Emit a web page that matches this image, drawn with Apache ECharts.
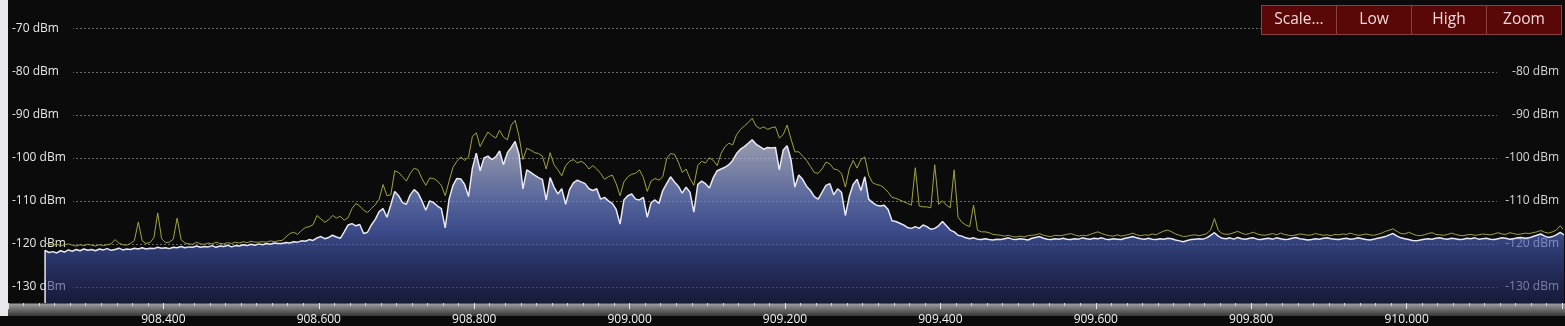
<!DOCTYPE html>
<html><head><meta charset="utf-8">
<script src="https://cdn.jsdelivr.net/npm/echarts@6/dist/echarts.min.js"></script>
<style>html,body{margin:0;padding:0;background:#0b0b0b;overflow:hidden}#c{width:1565px;height:326px}</style>
</head><body><div id="c"></div>
<script>
// ---- data (frequency grid in MHz, levels in dBm) ----
const freqStart = 908.2477;
const freqStep = 0.005;
const liveDbm = [
-121.5,-122.0,-121.8,-122.1,-121.6,-121.9,-121.4,-121.7,-121.3,-121.6,
-121.2,-121.5,-121.3,-121.6,-121.2,-121.4,-121.1,-121.5,-121.3,-121.0,
-121.4,-121.2,-121.3,-121.0,-121.2,-120.9,-121.2,-121.0,-121.1,-120.8,
-121.0,-120.9,-121.1,-120.8,-120.9,-120.6,-120.9,-120.7,-120.8,-120.5,
-120.8,-120.6,-120.7,-120.4,-120.8,-120.5,-120.6,-120.3,-120.7,-120.4,
-120.5,-120.2,-120.4,-120.1,-120.3,-120.0,-120.2,-119.9,-120.1,-119.8,
-119.9,
-119.9,-119.7,-119.8,-119.5,-119.6,-119.3,-119.4,-119.0,-119.2,-118.6,
-118.3,-118.8,-118.5,-118.0,-118.4,-118.7,-117.2,-115.6,-115.3,-115.8,
-115.5,-117.6,-117.3,-115.6,-114.3,-112.5,-111.8,-113.8,-110.9,-107.8,
-108.8,-110.4,-110.8,-108.6,-107.4,-108.2,-110.0,-112.2,-110.0,-110.4,
-111.2,-111.8,-116.3,-109.6,-106.4,-104.8,-104.9,-106.2,-109.0,-102.4,
-98.9,-103.0,-100.0,-99.6,-100.4,-99.8,-98.4,-101.6,-98.8,-97.6,
-96.2,-99.2,-107.2,-102.8,-103.4,-104.0,-104.6,-105.0,-109.8,-104.6,
-106.8,-108.4,-107.2,-110.8,-107.4,-105.8,-105.2,-105.6,-106.0,-107.2,
-107.6,-107.2,-109.6,-109.2,-110.0,-110.6,-112.0,-115.4,-109.8,-108.8,
-108.4,-109.6,-109.8,-109.2,-113.8,-110.4,-109.8,-110.6,-107.6,-106.0,
-104.4,-105.6,-106.6,-108.2,-106.8,-108.0,-112.6,-106.2,-105.4,-106.0,
-107.0,-104.6,-103.0,-102.6,-102.2,-101.6,-100.6,-99.0,-98.0,-97.4,
-96.6,-95.8,-96.8,-97.4,-98.0,-97.6,-97.7,-97.6,-102.8,-98.2,
-97.2,-100.4,-106.8,-104.0,-105.0,-106.6,-107.6,-109.0,-109.6,-108.0,
-106.4,-106.0,-108.6,-107.2,-108.0,-113.4,-109.0,-106.2,-105.0,-107.6,
-104.4,-109.6,-110.4,-111.0,-111.2,-111.0,-112.0,-114.6,-114.8,-115.2,
-115.6,-116.2,-116.4,-116.0,-116.4,-115.6,-116.0,-116.6,-116.4,-115.8,
-114.8,-115.8,-116.8,-117.2,-118.0,-118.2,-118.6,-118.8,-118.6,-118.9,
-119.0,-118.8,-119.0,-119.1,-118.9,-119.0,-118.8,-118.6,-118.9,-119.0,
-118.8,-118.9,-119.1,-118.7,-118.5,-118.3,-118.7,-118.9,-119.0,-118.8,
-118.9,-118.7,-118.9,-119.0,-118.8,-118.9,-118.6,-118.8,-118.9,-118.7,
-118.8,-118.6,-118.9,-119.0,-118.8,-118.9,-119.0,-118.7,-118.5,-118.3,
-118.6,-118.8,-118.9,-118.7,-118.9,-119.0,-118.8,-118.9,-118.7,-118.8,
-119.1,-119.3,-119.5,-119.2,-119.0,-118.9,-118.8,-118.9,-118.6,-118.0,
-117.4,-118.2,-118.7,-118.8,-118.6,-118.9,-118.5,-118.8,-118.9,-118.7,
-118.6,-118.9,-119.0,-118.8,-118.7,-118.9,-118.6,-118.8,-119.0,-118.9,
-118.7,-118.5,-118.8,-118.9,-119.1,-119.0,-118.8,-118.9,-118.7,-118.6,
-118.8,-118.9,-119.0,-118.8,-118.7,-118.9,-118.8,-118.6,-118.8,-119.0,
-119.1,-118.9,-118.7,-118.5,-118.3,-117.9,-117.6,-118.2,-118.6,-118.8,
-119.0,-119.2,-119.3,-119.1,-118.9,-118.8,-118.9,-118.7,-118.6,-118.8,
-118.9,-118.7,-118.8,-119.0,-118.9,-118.7,-118.8,-118.6,-118.9,-118.8,
-118.7,-118.9,-119.0,-118.8,-118.6,-118.7,-118.9,-118.8,-118.6,-118.5,
-118.7,-118.6,-118.3,-118.0,-117.7,-118.2,-118.5,-118.3,-117.9,-117.3,
-117.9,-118.2
];
const maxHoldDbm = [
-119.9,-120.0,-120.3,-120.1,-120.4,-120.2,-120.0,-120.3,-120.5,-120.2,
-120.4,-120.1,-120.3,-120.5,-120.2,-120.4,-120.2,-120.0,-119.0,-119.8,
-120.2,-120.3,-119.9,-119.2,-114.9,-119.3,-119.9,-119.7,-118.6,-112.8,
-118.8,-119.7,-119.6,-118.9,-114.0,-119.0,-119.8,-120.0,-120.1,-119.6,
-120.0,-120.1,-119.8,-120.0,-119.6,-119.9,-120.0,-119.7,-119.9,-119.6,
-119.8,-119.5,-119.7,-119.4,-119.6,-119.6,-119.5,-119.6,-119.3,-119.5,
-119.3,
-119.2,-118.4,-117.6,-117.3,-117.8,-116.9,-116.2,-116.0,-115.5,-113.4,
-114.2,-115.0,-114.4,-113.4,-114.0,-113.6,-114.5,-113.9,-111.8,-110.6,
-111.2,-112.2,-112.7,-111.8,-110.9,-109.6,-106.2,-108.8,-108.6,-103.0,
-103.4,-104.4,-105.4,-103.6,-102.4,-102.8,-104.8,-106.4,-104.7,-104.8,
-105.4,-106.4,-108.8,-105.4,-102.2,-100.8,-99.8,-100.6,-99.8,-95.0,
-94.2,-97.4,-95.6,-94.0,-94.8,-95.4,-93.6,-95.2,-95.8,-92.4,
-91.3,-95.0,-100.4,-97.8,-98.2,-98.8,-99.0,-99.6,-102.6,-98.8,
-101.6,-102.8,-104.2,-101.8,-100.8,-100.4,-101.2,-100.8,-101.4,-102.6,
-101.8,-102.6,-103.6,-105.0,-104.4,-104.0,-106.0,-108.8,-105.6,-104.4,
-103.8,-103.6,-102.8,-104.6,-107.8,-105.4,-104.8,-105.2,-104.4,-100.2,
-99.0,-99.2,-101.0,-103.4,-102.6,-104.8,-106.4,-101.8,-100.8,-101.2,
-100.0,-100.6,-101.8,-99.0,-97.4,-96.6,-97.0,-94.6,-93.4,-92.6,
-91.8,-90.8,-92.6,-93.2,-92.8,-93.4,-93.0,-92.8,-95.4,-94.6,
-92.4,-95.6,-98.6,-98.6,-99.6,-100.6,-102.0,-103.4,-103.6,-102.6,
-101.0,-101.4,-102.6,-102.8,-103.6,-106.8,-102.6,-100.6,-102.4,-100.4,
-99.8,-104.0,-105.8,-106.2,-106.4,-107.0,-108.0,-109.2,-109.4,-109.8,
-110.2,-110.6,-111.0,-102.3,-111.2,-111.4,-111.4,-111.6,-101.6,-110.8,
-110.0,-111.0,-111.6,-102.8,-113.8,-115.0,-115.6,-116.0,-111.0,-116.8,
-117.2,-117.2,-117.4,-117.8,-117.9,-118.0,-118.2,-118.0,-118.3,-118.4,
-118.2,-118.4,-118.1,-118.0,-117.9,-117.6,-118.0,-118.2,-118.3,-118.0,
-118.1,-118.0,-117.8,-117.6,-117.9,-118.2,-118.0,-118.1,-117.8,-117.5,
-117.2,-117.6,-117.9,-118.1,-118.2,-117.9,-118.2,-118.0,-117.8,-117.5,
-117.9,-118.1,-117.9,-118.0,-117.7,-117.9,-117.4,-117.0,-116.8,-117.2,
-117.7,-118.0,-118.3,-118.2,-118.0,-117.9,-118.1,-117.9,-117.6,-116.8,
-114.1,-116.9,-117.6,-117.8,-117.7,-117.4,-117.1,-117.5,-117.8,-117.6,
-117.3,-117.7,-117.9,-118.0,-117.8,-117.6,-117.9,-117.5,-117.8,-118.0,
-118.1,-117.9,-117.7,-117.8,-118.0,-117.9,-117.6,-117.8,-118.0,-117.9,
-118.1,-117.8,-117.9,-117.7,-117.8,-117.5,-117.8,-118.0,-117.9,-117.7,
-117.9,-118.0,-117.8,-117.5,-117.1,-116.8,-116.5,-117.1,-117.6,-117.7,
-117.3,-117.7,-118.0,-118.1,-117.9,-117.6,-117.4,-117.8,-117.9,-118.0,
-117.8,-117.5,-117.8,-118.0,-118.1,-117.9,-117.8,-118.0,-117.9,-117.7,
-117.8,-117.9,-117.7,-117.4,-117.7,-117.8,-117.4,-117.6,-117.8,-117.7,
-117.5,-117.6,-117.4,-117.2,-116.9,-117.3,-117.5,-117.2,-116.8,-115.8,
-116.9,-117.3
];
const freqMin = 908.2, freqMax = 910.2, freqTickStep = 0.2;
const levelMin = -133.74, levelMax = -63.32;
const levelUnit = ' dBm';
const buttonLabels = ['Scale...', 'Low', 'High', 'Zoom'];

// ---- build ----
const BG = '#0b0b0b';
const FONT = '"Open Sans", "Noto Sans", sans-serif';
const liveData = [[freqStart, levelMin]].concat(liveDbm.map((v, i) => [freqStart + i * freqStep, v]));
const maxData = maxHoldDbm.map((v, i) => [freqStart + i * freqStep, v]);

const chart = echarts.init(document.getElementById('c'), null, {renderer: 'canvas'});

const areaGrad = new echarts.graphic.LinearGradient(0, 120, 0, 303.5, [
  {offset: 0.000, color: 'rgba(236,238,250,1)'},
  {offset: 0.109, color: 'rgba(212,217,242,1)'},
  {offset: 0.272, color: 'rgba(170,181,230,1)'},
  {offset: 0.436, color: 'rgba(118,139,216,1)'},
  {offset: 0.599, color: 'rgba(86,108,202,0.95)'},
  {offset: 0.736, color: 'rgba(62,82,168,0.88)'},
  {offset: 0.872, color: 'rgba(48,60,134,0.8)'},
  {offset: 1.000, color: 'rgba(34,42,96,0.76)'}
], true);

const graphics = [
  {type: 'rect', z: 1, silent: true, shape: {x: 8, y: 303.5, width: 1557, height: 12.5},
   style: {fill: new echarts.graphic.LinearGradient(0, 0, 0, 1, [
     {offset: 0, color: '#a0a0a0'}, {offset: 0.45, color: '#6e6e6e'}, {offset: 1, color: '#363636'}])}},
  {type: 'rect', z: 30, silent: true, shape: {x: 0, y: 0, width: 8, height: 316}, style: {fill: '#e6e8ee'}}
];
buttonLabels.forEach((t, k) => {
  graphics.push({type: 'rect', z: 40, silent: true,
    shape: {x: 1261.5 + 75 * k, y: 5.5, width: 75, height: 29},
    style: {fill: '#5a0707', stroke: '#874242', lineWidth: 1}});
  graphics.push({type: 'text', z: 41, silent: true, x: 1261.5 + 75 * k + 37.5, y: 20,
    style: {text: t, fill: '#f1dada', font: '15.5px ' + FONT, align: 'center', verticalAlign: 'middle',
            textAlign: 'center', textVerticalAlign: 'middle'}});
});

const yBase = {type: 'value', min: levelMin, max: levelMax, splitNumber: 7,
  axisLine: {show: false}, axisTick: {show: false}};

chart.setOption({
  backgroundColor: BG,
  animation: false,
  grid: {left: 8, right: 0, top: 0, bottom: 22.5, containLabel: false},
  xAxis: {
    type: 'value', min: freqMin, max: freqMax, interval: freqTickStep, z: 5,
    axisLine: {show: false},
    axisTick: {show: true, length: 6, lineStyle: {color: '#e6e6e6', width: 1}},
    minorTick: {show: true, splitNumber: 10, length: 3, lineStyle: {color: '#d8d8d8', width: 1}},
    splitLine: {show: false},
    axisLabel: {color: '#f2f2f2', fontSize: 12, fontFamily: FONT, margin: 11,
      showMinLabel: false, showMaxLabel: false, formatter: v => v.toFixed(3)}
  },
  yAxis: [
    Object.assign({}, yBase, {position: 'left', axisLabel: {show: false},
      splitLine: {show: true, showMinLine: false, showMaxLine: false,
        lineStyle: {color: '#686868', width: 1, type: [2, 2]}}}),
    Object.assign({}, yBase, {position: 'left', splitLine: {show: false},
      axisLabel: {inside: true, margin: 0, align: 'left', showMinLabel: false, showMaxLabel: false,
        color: '#e8e8e8', fontSize: 12, fontFamily: FONT, formatter: v => v + levelUnit,
        backgroundColor: BG, width: 61, padding: [2, 0, 2, 4]}}),
    Object.assign({}, yBase, {position: 'right', splitLine: {show: false},
      axisLabel: {inside: true, margin: 0, align: 'right', showMinLabel: false, showMaxLabel: false,
        color: '#d6d6d6', fontSize: 12, fontFamily: FONT, formatter: v => v + levelUnit,
        backgroundColor: BG, width: 62, padding: [2, 3, 2, 0]}})
  ],
  series: [
    {type: 'line', name: 'live', yAxisIndex: 0, data: liveData, symbol: 'none', z: 2,
     lineStyle: {color: '#e6e8f4', width: 1.5}, areaStyle: {origin: 'start', color: areaGrad}},
    {type: 'line', name: 'max hold', yAxisIndex: 0, data: maxData, symbol: 'none', z: 3,
     lineStyle: {color: '#a2a340', width: 1}}
  ],
  graphic: graphics
});
</script></body></html>
